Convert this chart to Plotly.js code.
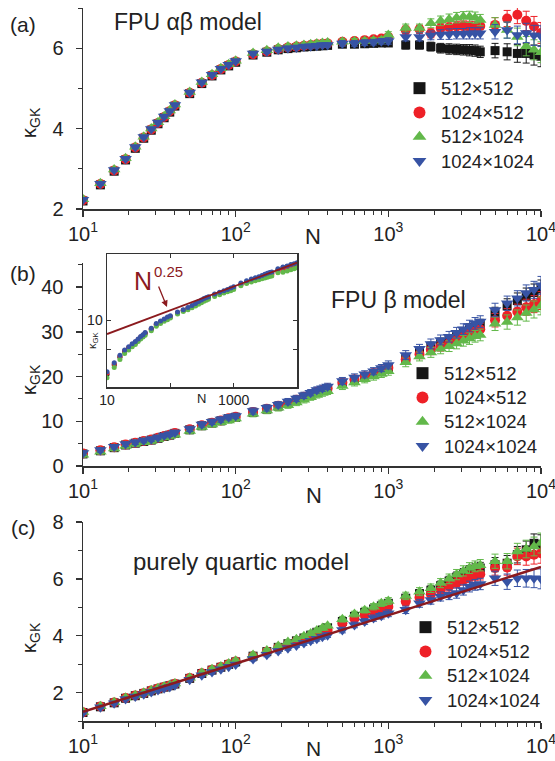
<!DOCTYPE html>
<html>
<head>
<meta charset="utf-8">
<script src="https://cdn.plot.ly/plotly-3.0.1.min.js"></script>
<style>html,body{margin:0;padding:0;background:#fff;}#chart{width:555px;height:761px;}</style>
</head>
<body>
<div id="chart"></div>
<script>
// ---------------- data ----------------
const N = [10,13,16,19,22,25,28,31,34,37,40,50,60,70,80,90,100,130,160,190,220,250,280,310,340,370,400,500,600,700,800,900,1000,1300,1600,1900,2200,2500,2800,3100,3400,3700,4000,5000,6000,7000,8000,9000,10000];
const seriesNames = ['512\u00d7512','1024\u00d7512','512\u00d71024','1024\u00d71024'];

// panel (a) FPU alpha-beta
const kA_512x512 = [2.20,2.60,2.94,3.22,3.51,3.76,3.96,4.12,4.27,4.41,4.56,4.87,5.12,5.31,5.46,5.56,5.65,5.83,5.90,5.96,5.99,6.01,6.03,6.04,6.05,6.06,6.07,6.10,6.10,6.11,6.12,6.13,6.13,6.08,6.08,6.04,6.00,5.98,5.97,5.96,5.95,5.94,5.91,5.94,5.91,5.87,5.87,5.83,5.80];
const kA_1024x512 = [2.22,2.62,2.96,3.24,3.53,3.78,3.98,4.14,4.29,4.43,4.58,4.89,5.14,5.33,5.48,5.58,5.67,5.85,5.92,5.98,6.02,6.04,6.06,6.08,6.10,6.11,6.12,6.16,6.18,6.20,6.22,6.24,6.28,6.45,6.47,6.37,6.50,6.52,6.54,6.55,6.53,6.52,6.55,6.58,6.74,6.83,6.68,6.54,6.38];
const kA_512x1024 = [2.24,2.64,2.98,3.26,3.55,3.80,4.00,4.16,4.31,4.45,4.60,4.91,5.16,5.35,5.50,5.60,5.69,5.88,5.95,6.01,6.04,6.06,6.08,6.10,6.12,6.13,6.14,6.16,6.17,6.18,6.19,6.20,6.33,6.50,6.50,6.62,6.68,6.72,6.76,6.78,6.78,6.76,6.70,6.58,6.45,6.28,6.05,5.96,5.90];
const kA_1024x1024 = [2.23,2.63,2.97,3.25,3.54,3.79,3.99,4.15,4.30,4.44,4.59,4.90,5.15,5.34,5.49,5.59,5.68,5.87,5.92,5.97,6.00,6.02,6.04,6.05,6.06,6.08,6.08,6.12,6.12,6.14,6.15,6.17,6.18,6.28,6.28,6.32,6.34,6.35,6.36,6.36,6.37,6.37,6.37,6.41,6.45,6.33,6.38,6.32,6.30];
const errA = [0.04,0.04,0.04,0.04,0.04,0.04,0.04,0.04,0.04,0.04,0.04,0.04,0.04,0.04,0.04,0.04,0.04,0.05,0.05,0.05,0.05,0.05,0.05,0.05,0.05,0.05,0.05,0.07,0.07,0.07,0.07,0.07,0.08,0.10,0.10,0.11,0.12,0.13,0.13,0.13,0.14,0.14,0.14,0.18,0.20,0.22,0.24,0.25,0.26];

// panel (b) FPU beta
const kB_512x512 = [2.7,3.4,4.1,4.7,5.1,5.5,5.8,6.2,6.6,6.9,7.3,8.1,9.0,9.6,10.1,10.6,10.9,12.0,12.7,13.4,14.0,14.7,15.4,16.0,16.5,16.9,17.3,18.5,19.3,20.0,20.7,21.3,22.0,24.0,25.4,26.6,27.5,28.2,29.0,29.8,30.5,31.0,31.5,34.0,35.8,37.0,38.0,38.8,39.6];
const kB_1024x512 = [2.8,3.5,4.2,4.8,5.2,5.6,5.9,6.3,6.7,7.0,7.4,8.2,9.1,9.7,10.2,10.7,11.0,12.1,12.8,13.5,14.1,14.8,15.5,16.0,16.6,17.0,17.4,18.6,19.4,20.1,20.8,21.4,22.0,23.8,25.0,26.0,26.8,27.5,28.2,28.9,29.6,30.1,30.6,32.6,33.6,34.5,35.5,36.2,37.0];
const kB_512x1024 = [2.5,3.2,3.9,4.5,4.9,5.3,5.6,6.0,6.4,6.7,7.0,7.8,8.7,9.3,9.8,10.2,10.6,11.7,12.4,13.0,13.6,14.2,14.8,15.4,15.9,16.3,16.7,17.9,18.7,19.4,20.0,20.6,21.2,23.2,24.5,25.4,26.2,26.8,27.4,28.0,28.5,29.0,29.3,31.8,32.2,33.2,34.2,35.0,35.8];
const kB_1024x1024 = [2.9,3.6,4.3,4.9,5.3,5.7,6.0,6.4,6.8,7.1,7.5,8.3,9.3,9.9,10.4,10.9,11.2,12.3,13.0,13.7,14.4,15.1,15.8,16.4,17.0,17.4,17.8,19.0,19.8,20.5,21.2,21.9,22.6,24.8,26.2,27.3,28.2,28.9,29.8,30.6,31.3,31.9,32.3,34.9,36.4,37.5,38.7,39.4,40.4];
const errB = [0.5,0.5,0.5,0.5,0.5,0.5,0.5,0.5,0.5,0.5,0.5,0.6,0.6,0.6,0.6,0.6,0.6,0.7,0.7,0.7,0.7,0.7,0.7,0.7,0.7,0.7,0.7,0.8,0.8,0.8,0.8,0.8,0.9,1.0,1.0,1.1,1.1,1.2,1.2,1.2,1.3,1.3,1.3,1.5,1.6,1.7,1.8,1.9,2.0];

// panel (c) purely quartic
const kC_512x512 = [1.30,1.50,1.64,1.80,1.89,1.97,2.06,2.13,2.19,2.24,2.30,2.50,2.67,2.79,2.89,2.99,3.08,3.28,3.44,3.59,3.72,3.82,3.92,4.02,4.12,4.20,4.28,4.50,4.68,4.82,4.94,5.05,5.14,5.32,5.48,5.60,5.76,5.92,6.06,6.18,6.28,6.34,6.38,6.50,6.55,6.85,7.02,7.25,7.20];
const kC_1024x512 = [1.31,1.51,1.65,1.81,1.90,1.98,2.07,2.14,2.20,2.25,2.31,2.51,2.68,2.80,2.90,3.00,3.09,3.28,3.44,3.58,3.70,3.80,3.89,3.98,4.06,4.14,4.20,4.44,4.60,4.72,4.84,4.94,5.02,5.20,5.34,5.46,5.60,5.74,5.86,5.96,6.06,6.12,6.16,6.38,6.40,6.79,6.79,6.85,6.90];
const kC_512x1024 = [1.32,1.52,1.66,1.82,1.91,1.99,2.08,2.15,2.21,2.26,2.32,2.52,2.70,2.82,2.92,3.02,3.12,3.32,3.48,3.64,3.78,3.88,3.98,4.08,4.18,4.27,4.35,4.58,4.76,4.90,5.02,5.14,5.22,5.40,5.55,5.67,5.85,6.00,6.15,6.28,6.38,6.44,6.48,6.62,6.62,6.96,7.05,7.14,7.26];
const kC_1024x1024 = [1.29,1.48,1.62,1.77,1.86,1.94,2.02,2.09,2.15,2.20,2.26,2.45,2.61,2.72,2.82,2.91,2.99,3.18,3.33,3.46,3.56,3.66,3.74,3.82,3.89,3.96,4.02,4.20,4.38,4.50,4.62,4.70,4.79,4.91,5.14,5.26,5.38,5.44,5.50,5.61,5.73,5.79,5.82,6.02,5.90,6.02,6.02,6.02,6.00];
const errC = [0.05,0.05,0.05,0.05,0.05,0.05,0.05,0.05,0.05,0.05,0.05,0.06,0.06,0.06,0.06,0.06,0.06,0.07,0.07,0.07,0.07,0.07,0.08,0.08,0.08,0.08,0.08,0.10,0.10,0.10,0.11,0.11,0.12,0.13,0.14,0.15,0.16,0.17,0.18,0.18,0.19,0.19,0.20,0.25,0.27,0.29,0.31,0.33,0.35];

// fit lines
const fitInsetN = [10, 10000];
const fitInsetK = [7.2, 40.5];
const fitCN = [10, 10000];
const fitCK = [1.32, 6.42];

// tick labels
const xTickVals = [10, 100, 1000, 10000];
const xTickText = ['10<sup>1</sup>','10<sup>2</sup>','10<sup>3</sup>','10<sup>4</sup>'];
const insetXTickVals = [10, 100, 1000];
const insetXTickText = ['10', ' ', '1000'];
const insetYTickVals = [5, 10];
const insetYTickText = [' ', '10'];

// ---------------- styling ----------------
const colors = ['#161616', '#ee2027', '#62b84a', '#3753a4'];
const symbols = ['square', 'circle', 'triangle-up', 'triangle-down'];
const sizes = [9, 10, 11, 11];
const FONT = 'Liberation Sans, Arial, sans-serif';
const W = 555, H = 761;
const px = v => v / W;
const py = v => 1 - v / H;

const panels = [
  {vals: [kA_512x512, kA_1024x512, kA_512x1024, kA_1024x1024], err: errA, xa: 'x', ya: 'y', leg: 'legend'},
  {vals: [kB_512x512, kB_1024x512, kB_512x1024, kB_1024x1024], err: errB, xa: 'x2', ya: 'y2', leg: 'legend2'},
  {vals: [kC_512x512, kC_1024x512, kC_512x1024, kC_1024x1024], err: errC, xa: 'x3', ya: 'y3', leg: 'legend3'}
];

const traces = [];
panels.forEach(p => {
  for (let s = 0; s < 4; s++) {
    traces.push({
      type: 'scatter', mode: 'markers', x: N, y: p.vals[s],
      name: '<span style="font-size:18.5px">' + seriesNames[s] + '</span>',
      xaxis: p.xa, yaxis: p.ya, legend: p.leg,
      marker: {symbol: symbols[s], color: colors[s], size: sizes[s], line: {width: 0}},
      error_y: {type: 'data', array: p.err, visible: true, color: colors[s], thickness: 1, width: 3.5},
      hoverinfo: 'skip'
    });
  }
});
// panel c fit line
traces.push({type: 'scatter', mode: 'lines', x: fitCN, y: fitCK, xaxis: 'x3', yaxis: 'y3',
  line: {color: '#8b1a1e', width: 2.5}, showlegend: false, hoverinfo: 'skip'});
// inset data (panel b on log-log)
for (let s = 0; s < 4; s++) {
  traces.push({
    type: 'scatter', mode: 'markers', x: N, y: panels[1].vals[s], xaxis: 'x4', yaxis: 'y4',
    marker: {symbol: 'circle', color: colors[s], size: 5}, showlegend: false, hoverinfo: 'skip'
  });
}
traces.push({type: 'scatter', mode: 'lines', x: fitInsetN, y: fitInsetK, xaxis: 'x4', yaxis: 'y4',
  line: {color: '#8b1a1e', width: 1.8}, showlegend: false, hoverinfo: 'skip'});

// minor ticks on log axes
const minorX = [];
[10, 100, 1000].forEach(d => { for (let m = 2; m <= 9; m++) minorX.push(d * m); });

const axisColor = '#333333';
function mainX(anchor) {
  return {
    domain: [px(83), px(541)], anchor: anchor, type: 'log', range: [1, 4],
    tickvals: xTickVals, ticktext: xTickText, ticks: 'outside', ticklen: 6, tickwidth: 1.3,
    tickcolor: axisColor, showline: true, linecolor: axisColor, linewidth: 1.5,
    showgrid: false, zeroline: false, ticklabelstandoff: 0, ticklabeloverflow: 'allow',
    tickfont: {family: FONT, size: 20, color: '#222'},
    minor: {tickvals: minorX, ticks: 'outside', ticklen: 4, tickwidth: 1, tickcolor: axisColor, showgrid: false}
  };
}
function mainY(top, bottom, range, dtick, anchor) {
  return {
    domain: [py(bottom), py(top)], anchor: anchor, range: range, tick0: 0, dtick: dtick,
    ticks: 'outside', ticklen: 6, tickwidth: 1.3, tickcolor: axisColor,
    showline: true, linecolor: axisColor, linewidth: 1.5, showgrid: false, zeroline: false,
    ticklabelstandoff: 8,
    tickfont: {family: FONT, size: 20, color: '#222'},
    minor: {dtick: dtick / 2, ticks: 'outside', ticklen: 4, tickwidth: 1, tickcolor: axisColor, showgrid: false}
  };
}

function legendAt(xMarker, yTop) {
  return {
    x: px(xMarker - 23), y: py(yTop), xanchor: 'left', yanchor: 'top', xref: 'paper', yref: 'paper',
    bgcolor: 'rgba(0,0,0,0)', borderwidth: 0, itemwidth: 33, itemsizing: 'constant',
    font: {family: FONT, size: 16.4, color: '#222'}, tracegroupgap: 0
  };
}

const ann = [];
function text(t, x, y, size, opts) {
  ann.push(Object.assign({text: t, x: px(x), y: py(y), xref: 'paper', yref: 'paper', showarrow: false,
    xanchor: 'center', yanchor: 'middle', font: {family: FONT, size: size, color: '#222'}}, opts || {}));
}
text('(a)', 23, 24, 21);
text('(b)', 23, 273, 21);
text('(c)', 23, 527, 21);
text('FPU \u03b1\u03b2 model', 188, 22, 23);
text('FPU \u03b2 model', 398, 300, 23);
text('purely quartic model', 241, 561, 24);
text('\u03ba<sub>GK</sub>', 30, 123, 20, {textangle: -90});
text('\u03ba<sub>GK</sub>', 30, 380, 20, {textangle: -90});
text('\u03ba<sub>GK</sub>', 30, 638, 20, {textangle: -90});
text('N', 313, 236, 22);
text('N', 314, 495, 22);
text('N', 313, 748, 21);
// inset texts
text('N', 201, 399, 13);
text('\u03ba<sub>GK</sub>', 93, 341, 11, {textangle: -90});
text('N', 143, 281, 25, {font: {family: FONT, size: 25, color: '#8b1a1e'}});
text('0.25', 168, 271, 15, {font: {family: FONT, size: 15, color: '#8b1a1e'}});
ann.push({text: '', x: px(167), y: py(307), ax: -9, ay: -22, xref: 'paper', yref: 'paper',
  showarrow: true, arrowhead: 2, arrowsize: 1, arrowwidth: 1.3, arrowcolor: '#8b1a1e'});

const layout = {
  width: W, height: H, margin: {l: 0, r: 0, t: 0, b: 0},
  paper_bgcolor: '#fff', plot_bgcolor: 'rgba(0,0,0,0)', showlegend: true,
  font: {family: FONT, color: '#222'},
  xaxis: mainX('y'),
  yaxis: mainY(8, 209, [2, 7], 2, 'x'),
  xaxis2: mainX('y2'),
  yaxis2: mainY(263, 466, [0, 45.4], 10, 'x2'),
  xaxis3: mainX('y3'),
  yaxis3: mainY(522, 721, [1, 8], 2, 'x3'),
  xaxis4: {
    domain: [px(107), px(297)], anchor: 'y4', type: 'log', range: [1, 4],
    tickvals: insetXTickVals, ticktext: insetXTickText, ticks: 'inside', ticklen: 4, tickcolor: axisColor,
    showline: true, mirror: 'ticks', linecolor: axisColor, linewidth: 1.5, showgrid: false, zeroline: false,
    tickfont: {family: FONT, size: 14, color: '#222'}
  },
  yaxis4: {
    domain: [py(387), py(254)], anchor: 'x4', type: 'log', range: [Math.log10(2), Math.log10(50)],
    tickvals: insetYTickVals, ticktext: insetYTickText, ticks: 'inside', ticklen: 4, tickcolor: axisColor,
    showline: true, mirror: 'ticks', linecolor: axisColor, linewidth: 1.5, showgrid: false, zeroline: false,
    tickfont: {family: FONT, size: 14, color: '#222'}
  },
  legend: legendAt(421, 71),
  legend2: legendAt(424, 356),
  legend3: legendAt(427, 610),
  annotations: ann
};

Plotly.newPlot('chart', traces, layout, {displayModeBar: false, staticPlot: true});
</script>
</body>
</html>
